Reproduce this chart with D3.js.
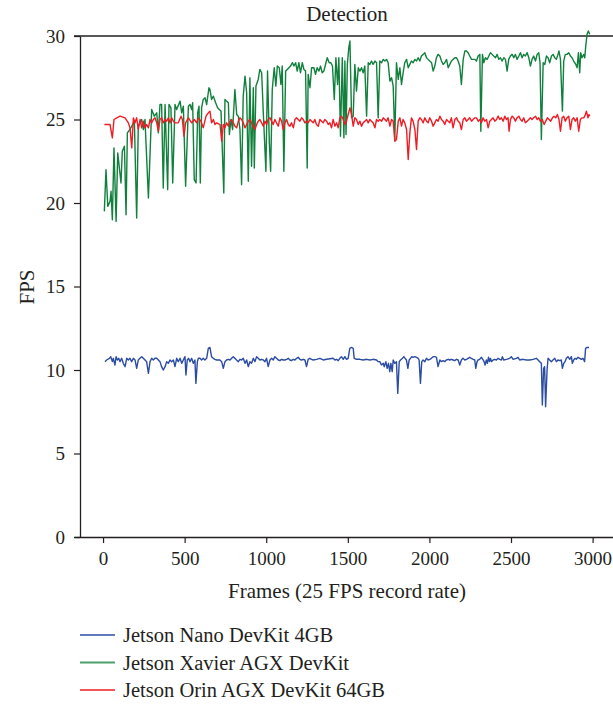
<!DOCTYPE html>
<html>
<head>
<meta charset="utf-8">
<script src="https://cdn.jsdelivr.net/npm/d3@7"></script>
<style>
  body { margin: 0; background: #fff; }
  text { font-family: "Liberation Serif", "DejaVu Serif", serif; fill: #231f20; }
</style>
</head>
<body>
<div id="chart"></div>
<script>
// Chart text
const title = "Detection";
const xLabel = "Frames (25 FPS record rate)";
const yLabel = "FPS";
const xTicks = [0, 500, 1000, 1500, 2000, 2500, 3000];
const yTicks = [0, 5, 10, 15, 20, 25, 30];

const seriesNames = ["Jetson Nano DevKit 4GB", "Jetson Xavier AGX DevKit", "Jetson Orin AGX DevKit 64GB"];
const seriesColors = ["#2b4ca3", "#10803c", "#ee1d25"];

// [frame, fps]
const nanoData = [[12,10.5],[22,10.6],[39,10.7],[47,10.8],[57,10.5],[63,10.7],[73,10.3],[80,10.8],[88,10.6],[96,10.7],[104,10.5],[114,10.7],[124,10.4],[135,10.2],[145,10.7],[155,10.6],[165,10.7],[175,10.5],[186,10.7],[196,10.6],[206,10.1],[216,10.6],[226,10.7],[237,10.8],[247,10.7],[257,10.6],[267,10.5],[278,9.8],[288,10.5],[298,10.7],[308,10.6],[318,10.7],[329,10.7],[339,10.6],[349,10.5],[359,10.2],[369,10.0],[380,10.2],[390,10.5],[400,10.4],[410,10.6],[420,10.5],[431,10.6],[441,10.2],[451,10.7],[461,10.5],[472,10.7],[482,10.4],[492,10.6],[502,10.8],[508,9.7],[516,10.6],[524,10.7],[533,10.5],[543,10.7],[553,10.4],[563,10.6],[569,9.2],[578,10.5],[584,10.7],[594,10.7],[604,10.6],[614,10.7],[624,10.6],[635,10.7],[645,11.3],[655,11.35],[665,10.8],[676,10.7],[686,10.64],[696,10.6],[706,10.6],[716,10.6],[727,10.5],[737,10.1],[747,10.5],[757,10.6],[767,10.64],[778,10.6],[788,10.7],[798,10.8],[808,10.7],[818,10.6],[829,10.5],[839,10.64],[849,10.6],[859,10.7],[870,10.4],[880,10.6],[890,10.2],[900,10.5],[910,10.4],[921,10.7],[931,10.5],[941,10.8],[951,10.7],[961,10.6],[972,10.64],[982,10.6],[992,10.5],[1002,10.7],[1012,10.2],[1023,10.6],[1033,10.7],[1043,10.6],[1053,10.8],[1063,10.7],[1074,10.6],[1084,10.56],[1094,10.64],[1104,10.6],[1114,10.6],[1125,10.64],[1135,10.7],[1145,10.6],[1155,10.56],[1165,10.64],[1176,10.6],[1186,10.7],[1196,10.76],[1206,10.64],[1216,10.6],[1227,10.64],[1237,10.6],[1247,10.2],[1257,10.64],[1267,10.7],[1278,10.64],[1288,10.6],[1308,10.64],[1329,10.7],[1349,10.6],[1370,10.64],[1410,10.7],[1421,10.6],[1431,10.64],[1441,10.56],[1451,10.7],[1461,10.8],[1472,10.64],[1482,10.8],[1492,10.64],[1502,10.7],[1512,11.3],[1523,11.35],[1533,11.3],[1539,10.7],[1553,10.64],[1574,10.64],[1594,10.6],[1615,10.64],[1635,10.6],[1655,10.64],[1676,10.6],[1686,10.5],[1696,10.5],[1706,10.3],[1717,10.4],[1723,10.2],[1733,10.5],[1741,10.1],[1749,10.4],[1757,9.9],[1764,10.4],[1772,9.9],[1778,10.6],[1788,10.4],[1798,10.5],[1806,8.6],[1815,10.5],[1823,10.6],[1835,10.7],[1843,10.8],[1851,10.7],[1859,10.6],[1868,10.1],[1876,10.6],[1884,10.7],[1892,10.8],[1900,10.76],[1910,10.8],[1921,10.76],[1931,10.7],[1937,10.6],[1945,9.2],[1953,10.5],[1961,10.6],[1972,10.5],[1982,10.7],[1992,10.6],[2002,10.64],[2012,10.7],[2023,10.8],[2033,10.8],[2043,10.76],[2053,10.2],[2064,10.6],[2074,10.5],[2084,10.56],[2094,10.5],[2104,10.6],[2115,10.64],[2125,10.6],[2135,10.64],[2145,10.6],[2155,10.56],[2166,10.64],[2176,10.6],[2186,10.3],[2196,10.6],[2206,10.7],[2217,10.6],[2227,10.64],[2237,10.7],[2247,10.76],[2257,10.7],[2268,10.64],[2278,10.6],[2284,10.1],[2292,10.5],[2298,10.6],[2308,10.64],[2319,10.76],[2329,10.6],[2335,10.5],[2341,10.3],[2349,10.6],[2355,10.4],[2362,10.76],[2368,10.5],[2374,10.7],[2380,10.5],[2390,10.6],[2400,10.64],[2411,10.6],[2421,10.7],[2431,10.64],[2441,10.6],[2447,10.8],[2455,10.6],[2472,10.64],[2492,10.7],[2502,10.8],[2513,10.64],[2533,10.7],[2543,10.76],[2553,10.6],[2574,10.64],[2594,10.6],[2615,10.6],[2635,10.64],[2655,10.7],[2666,10.6],[2676,10.5],[2686,10.4],[2692,7.9],[2700,10.1],[2706,10.2],[2712,7.8],[2721,10.0],[2727,10.7],[2737,10.6],[2747,10.5],[2757,10.6],[2768,10.7],[2778,10.5],[2788,10.6],[2798,10.56],[2808,10.6],[2815,10.1],[2823,10.4],[2831,10.5],[2839,10.7],[2849,10.8],[2860,10.64],[2870,10.8],[2876,10.4],[2884,10.6],[2892,10.7],[2900,10.64],[2911,10.76],[2921,10.7],[2931,10.64],[2941,10.7],[2951,10.5],[2957,11.3],[2966,11.35],[2978,11.35]];

const xavierData = [[8,19.5],[18,22.0],[29,19.8],[43,20.1],[49,20.7],[57,19.0],[67,23.3],[80,18.9],[90,23.0],[110,21.2],[118,23.1],[131,23.4],[141,19.3],[149,24.2],[165,24.4],[176,24.6],[192,24.9],[206,19.1],[216,24.6],[237,25.0],[247,24.4],[257,25.0],[278,20.3],[298,25.6],[314,25.2],[329,25.4],[339,24.2],[349,25.9],[359,25.9],[369,20.9],[380,25.9],[396,20.8],[404,25.9],[416,25.7],[427,21.2],[441,25.9],[451,25.6],[472,26.1],[482,25.4],[492,25.8],[506,21.0],[523,25.8],[533,25.9],[543,25.6],[549,26.0],[559,21.4],[570,21.2],[580,25.4],[588,25.8],[596,21.2],[604,25.7],[614,26.2],[625,26.3],[635,25.9],[649,26.9],[655,26.8],[665,26.2],[676,26.4],[690,26.0],[702,25.7],[723,25.5],[740,20.6],[747,26.2],[757,26.1],[768,26.0],[774,24.1],[784,25.0],[794,24.4],[808,26.8],[819,25.3],[829,25.2],[839,24.4],[849,21.1],[859,26.4],[870,27.6],[880,26.6],[890,21.3],[900,27.5],[910,22.2],[921,26.9],[927,22.1],[937,27.0],[951,27.4],[961,28.0],[972,27.8],[982,25.4],[998,21.9],[1008,27.9],[1019,23.6],[1027,21.9],[1037,26.8],[1049,28.1],[1059,27.0],[1068,28.2],[1080,28.1],[1090,27.1],[1098,28.2],[1108,21.9],[1119,27.9],[1129,28.0],[1139,28.1],[1149,28.2],[1161,28.4],[1170,28.2],[1180,28.4],[1190,27.9],[1200,28.4],[1210,27.8],[1221,28.4],[1231,28.0],[1241,27.9],[1251,22.1],[1257,27.7],[1268,26.9],[1278,28.1],[1292,28.1],[1302,27.7],[1312,28.1],[1323,27.9],[1333,28.2],[1343,27.8],[1353,27.9],[1366,28.4],[1374,28.7],[1386,28.4],[1396,28.4],[1406,28.2],[1417,26.2],[1427,28.7],[1437,27.1],[1445,28.7],[1455,24.0],[1466,28.7],[1476,23.9],[1482,28.5],[1489,24.1],[1497,28.3],[1506,29.3],[1513,29.7],[1523,25.1],[1533,25.2],[1543,28.3],[1553,26.7],[1564,28.1],[1574,27.9],[1584,28.1],[1594,27.8],[1604,28.2],[1615,25.2],[1625,28.4],[1635,28.3],[1645,28.5],[1655,28.3],[1666,28.5],[1676,28.4],[1686,25.1],[1696,28.5],[1707,28.4],[1717,28.6],[1727,28.5],[1737,28.6],[1747,28.4],[1758,27.3],[1768,27.5],[1778,27.0],[1788,23.8],[1798,28.4],[1809,27.4],[1819,28.1],[1829,27.1],[1839,27.8],[1849,28.4],[1860,28.6],[1870,28.1],[1880,28.3],[1890,28.5],[1900,28.4],[1911,28.6],[1921,28.5],[1931,28.7],[1941,28.5],[1951,28.8],[1962,28.9],[1972,29.0],[1982,28.7],[1992,28.6],[2002,28.5],[2013,28.4],[2023,27.9],[2033,28.2],[2043,28.7],[2053,28.9],[2064,28.8],[2074,28.5],[2084,28.3],[2094,28.4],[2105,28.6],[2115,28.1],[2125,28.3],[2135,28.5],[2145,28.6],[2156,28.7],[2166,28.7],[2176,28.5],[2186,28.2],[2196,27.1],[2207,28.6],[2217,29.1],[2227,29.1],[2237,29.0],[2247,28.8],[2258,28.6],[2268,28.6],[2278,28.6],[2288,28.5],[2299,28.8],[2309,28.9],[2315,24.3],[2325,28.9],[2333,28.4],[2343,28.7],[2354,28.6],[2364,28.8],[2374,29.0],[2384,28.9],[2394,28.8],[2405,28.7],[2415,28.9],[2425,28.6],[2435,28.7],[2445,28.5],[2456,28.7],[2466,28.6],[2476,27.9],[2486,28.6],[2496,28.8],[2507,28.9],[2517,28.7],[2527,28.9],[2537,28.6],[2548,28.8],[2558,29.0],[2568,28.7],[2578,28.9],[2588,28.8],[2599,29.0],[2609,28.7],[2619,28.2],[2629,28.6],[2639,28.8],[2650,28.5],[2660,28.9],[2670,29.0],[2678,28.4],[2686,23.8],[2697,28.4],[2707,28.3],[2717,28.8],[2727,28.7],[2737,28.4],[2748,28.8],[2758,28.9],[2768,28.7],[2778,28.6],[2788,28.9],[2794,29.1],[2803,28.6],[2815,25.5],[2823,28.5],[2833,28.9],[2843,28.9],[2854,29.0],[2864,28.8],[2874,28.7],[2884,28.5],[2897,28.3],[2905,28.1],[2913,29.0],[2921,27.8],[2927,29.0],[2935,28.7],[2946,28.9],[2952,28.7],[2958,29.4],[2966,30.1],[2974,30.3],[2982,30.1]];

const orinData = [[8,24.7],[30,24.7],[43,24.7],[57,23.9],[67,25.0],[84,25.1],[104,25.2],[135,25.1],[155,24.8],[165,24.5],[176,23.3],[186,25.1],[196,24.8],[206,25.1],[216,24.4],[227,25.0],[237,24.5],[247,24.9],[257,24.5],[267,24.7],[278,24.5],[288,25.0],[298,24.8],[308,25.0],[318,25.1],[329,24.8],[339,24.3],[349,25.0],[359,25.1],[369,24.8],[380,25.0],[390,24.9],[400,25.1],[410,24.8],[421,25.1],[431,24.9],[441,24.8],[461,24.8],[478,25.2],[486,25.0],[496,24.0],[506,24.8],[523,25.1],[543,24.8],[559,25.0],[574,24.8],[584,25.1],[600,24.9],[614,24.5],[631,25.2],[645,25.4],[655,25.5],[665,24.8],[676,25.0],[686,24.7],[696,24.8],[717,24.7],[727,23.7],[737,24.7],[747,24.5],[757,24.8],[768,24.6],[778,24.9],[788,25.0],[798,24.8],[808,24.6],[819,24.5],[829,24.9],[839,25.1],[849,25.0],[859,24.8],[870,24.5],[880,24.7],[890,24.9],[900,25.0],[910,24.8],[921,24.6],[931,24.4],[941,24.7],[951,24.9],[961,25.0],[972,24.8],[982,24.6],[992,24.9],[1002,24.7],[1012,25.0],[1023,25.1],[1033,24.9],[1043,24.7],[1053,25.0],[1063,24.8],[1074,24.6],[1084,25.1],[1094,24.9],[1104,24.4],[1114,24.8],[1125,25.0],[1135,24.7],[1145,24.6],[1155,24.8],[1166,24.5],[1176,25.0],[1186,25.1],[1196,25.0],[1206,24.9],[1217,25.1],[1227,25.0],[1237,24.8],[1247,24.9],[1257,24.8],[1268,25.0],[1278,24.9],[1288,24.8],[1298,25.0],[1308,24.7],[1319,24.6],[1329,25.0],[1339,24.9],[1349,24.8],[1359,25.0],[1370,24.9],[1380,24.7],[1390,24.8],[1400,24.5],[1410,25.0],[1421,24.6],[1431,24.8],[1441,24.5],[1451,25.1],[1461,25.2],[1472,25.0],[1482,24.7],[1492,24.9],[1502,25.3],[1513,25.7],[1523,25.3],[1533,24.6],[1543,25.1],[1553,25.0],[1564,24.7],[1574,24.9],[1584,24.6],[1594,24.8],[1604,24.9],[1615,25.0],[1625,24.8],[1635,25.0],[1645,24.9],[1655,24.8],[1666,24.5],[1676,25.0],[1686,24.9],[1696,25.0],[1707,24.9],[1717,25.1],[1727,25.0],[1737,24.9],[1747,25.1],[1758,24.6],[1768,25.0],[1778,24.9],[1788,23.7],[1798,23.8],[1809,24.9],[1819,25.1],[1829,24.6],[1839,25.0],[1849,24.8],[1860,24.4],[1870,22.6],[1880,24.2],[1890,25.1],[1900,24.9],[1911,24.4],[1921,23.2],[1931,24.9],[1941,25.1],[1951,25.0],[1962,24.8],[1972,25.1],[1982,24.9],[1992,24.8],[2002,25.1],[2013,24.9],[2023,24.6],[2033,24.8],[2043,25.0],[2053,24.9],[2064,25.2],[2074,25.0],[2084,24.9],[2094,24.7],[2105,25.0],[2115,24.9],[2125,24.8],[2135,25.1],[2145,24.5],[2156,25.0],[2166,25.1],[2176,24.9],[2186,24.8],[2196,24.4],[2207,25.0],[2217,25.1],[2227,24.9],[2237,25.0],[2247,25.1],[2258,24.9],[2268,25.0],[2278,25.1],[2288,25.1],[2299,24.9],[2309,25.0],[2319,24.8],[2329,25.1],[2339,24.9],[2350,25.0],[2360,24.5],[2370,24.9],[2380,25.0],[2390,25.1],[2401,24.9],[2411,25.0],[2421,25.2],[2431,25.0],[2441,25.1],[2452,24.9],[2462,25.2],[2472,25.0],[2482,25.1],[2488,24.3],[2497,25.0],[2507,25.2],[2517,25.1],[2527,24.9],[2537,25.1],[2548,25.2],[2558,25.0],[2568,24.9],[2578,25.1],[2588,24.8],[2599,24.9],[2609,25.0],[2619,25.1],[2629,25.0],[2639,25.1],[2650,25.2],[2660,25.0],[2670,25.1],[2680,24.9],[2692,25.0],[2703,24.7],[2713,24.9],[2723,25.1],[2733,25.0],[2743,24.9],[2754,25.1],[2764,25.2],[2774,25.1],[2784,25.3],[2794,25.0],[2803,24.3],[2813,25.1],[2823,25.2],[2833,24.9],[2843,25.1],[2854,25.2],[2864,24.4],[2874,25.0],[2884,25.1],[2894,24.9],[2905,25.1],[2915,24.3],[2925,25.0],[2935,25.1],[2946,25.1],[2956,25.3],[2962,25.5],[2972,25.1],[2978,25.3],[2982,25.2]];

var width = 613, height = 705;

var svg = d3.select("#chart")
  .append("svg")
    .attr("width", width)
    .attr("height", height);

// scales (frame range runs off the right edge like the original)
var x = d3.scaleLinear().domain([-178, 3125]).range([74, 613]);
var y = d3.scaleLinear().domain([0, 30]).range([537, 36]);

// Title
svg.append("text")
  .attr("x", 347)
  .attr("y", 21)
  .attr("text-anchor", "middle")
  .style("font-size", "21px")
  .text(title);

// Top frame line
svg.append("line")
  .attr("x1", 74).attr("x2", width)
  .attr("y1", y(30)).attr("y2", y(30))
  .attr("stroke", "#231f20")
  .attr("stroke-width", 1.3);

// Y axis
var yAxis = svg.append("g")
  .attr("transform", "translate(80,0)")
  .call(d3.axisLeft(y).tickValues(yTicks).tickFormat(d3.format("d"))
    .tickSize(6).tickSizeOuter(0).tickPadding(9));

// X axis
var xAxis = svg.append("g")
  .attr("transform", "translate(0," + y(0) + ")")
  .call(d3.axisBottom(x).tickValues(xTicks).tickFormat(d3.format("d"))
    .tickSize(6).tickSizeOuter(0).tickPadding(9));

[yAxis, xAxis].forEach(function(g) {
  g.select(".domain").attr("stroke", "#231f20").attr("stroke-width", 1.3);
  g.selectAll(".tick line").attr("stroke", "#231f20").attr("stroke-width", 1.2);
  g.selectAll(".tick text")
    .attr("fill", "#231f20")
    .style("font-family", "'Liberation Serif', serif")
    .style("font-size", "19px");
});

// Axis labels
svg.append("text")
  .attr("x", 347)
  .attr("y", 598)
  .attr("text-anchor", "middle")
  .style("font-size", "21px")
  .text(xLabel);

svg.append("text")
  .attr("transform", "translate(27,287) rotate(-90)")
  .attr("text-anchor", "middle")
  .attr("dy", "0.35em")
  .style("font-size", "21px")
  .text(yLabel);

// Lines
var line = d3.line()
  .x(function(d) { return x(d[0]); })
  .y(function(d) { return y(d[1]); });

var allSeries = [nanoData, xavierData, orinData];
allSeries.forEach(function(data, i) {
  svg.append("path")
    .datum(data)
    .attr("fill", "none")
    .attr("stroke", seriesColors[i])
    .attr("stroke-width", 1.4)
    .attr("stroke-linejoin", "round")
    .attr("d", line);
});

// Legend
var legend = svg.append("g");
seriesNames.forEach(function(name, i) {
  var ly = 635 + i * 27.5;
  legend.append("line")
    .attr("x1", 80).attr("x2", 115)
    .attr("y1", ly).attr("y2", ly)
    .attr("stroke", seriesColors[i])
    .attr("stroke-opacity", 0.75)
    .attr("stroke-width", 2);
  legend.append("text")
    .attr("x", 123)
    .attr("y", ly)
    .attr("dy", "0.35em")
    .style("font-size", "20.5px")
    .text(name);
});
</script>
</body>
</html>
